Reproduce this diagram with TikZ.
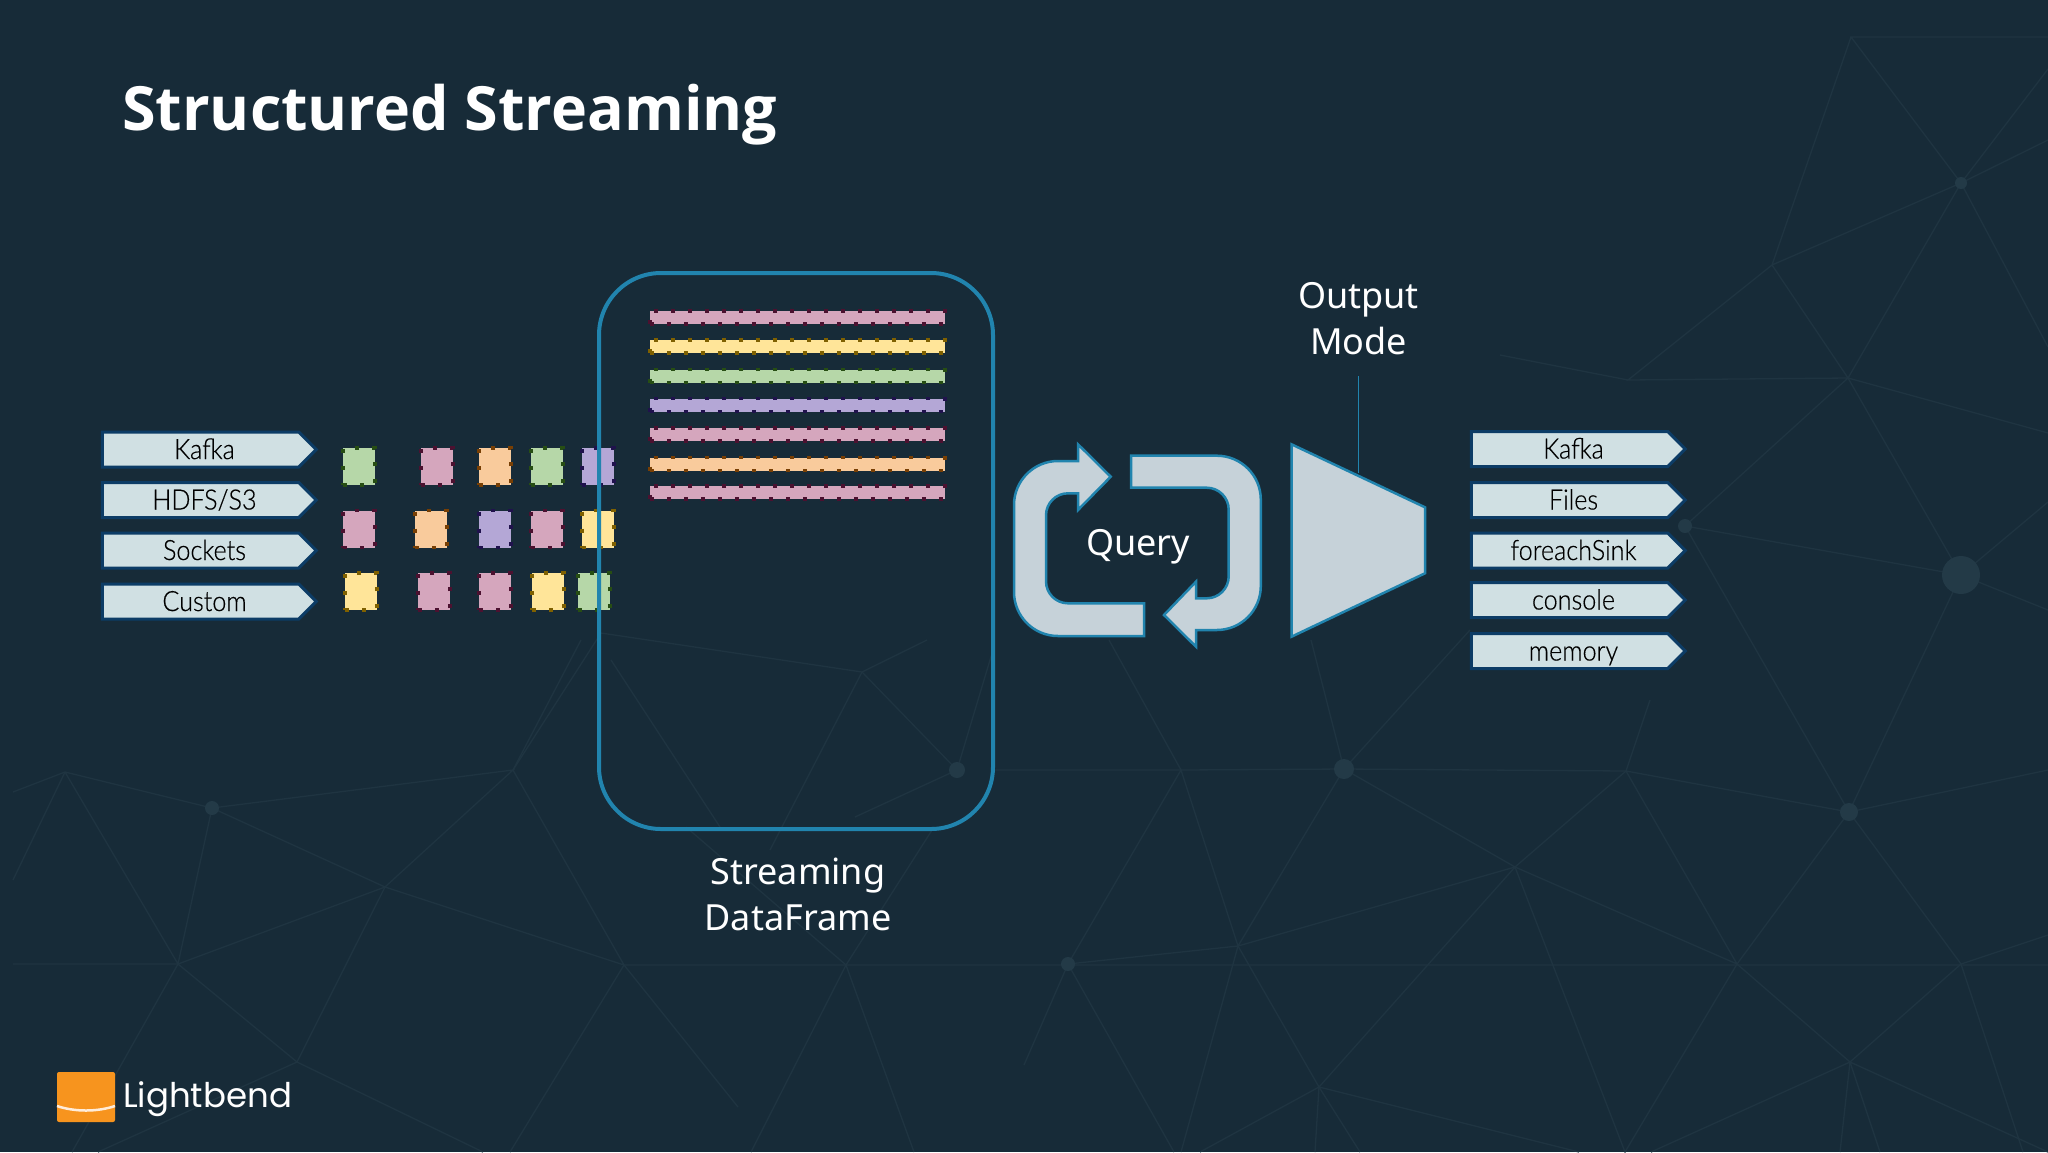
\documentclass[tikz,border=0pt]{standalone}
\usepackage{fontspec}
\setmainfont{Noto Sans}
\newfontfamily\titlefont{Open Sans}
\newfontfamily\boxfont[FakeStretch=0.9, FakeBold=0.4]{Lato Light}
\newfontfamily\logofont{Poppins}
\usetikzlibrary{shapes.symbols}
\definecolor{bgdark}{HTML}{172B38}
\definecolor{bgline}{HTML}{1F3441}
\definecolor{bgdot}{HTML}{233A47}
\definecolor{frameblue}{HTML}{2184AE}
\definecolor{boxfill}{HTML}{D0E0E3}
\definecolor{boxedge}{HTML}{0C3C66}
\definecolor{loopfill}{HTML}{C6D2D9}
\definecolor{logoorange}{HTML}{F7941E}
\tikzset{net/.style = {draw = bgline, line width = 1.3}}
\tikzset{netdot/.style = {fill = bgdot, circle, inner sep = 0}}
\tikzset{signalbox/.style = {signal, signal to = east, signal pointer angle = 90, draw = boxedge, fill = boxfill, line width = 3,
    inner sep = 0, minimum width = 214, minimum height = 35, text = black, text height = 22, text depth = 3,
    execute at begin node = \hspace*{8pt}, font = \boxfont\fontsize{28}{28}\selectfont}}
\tikzset{pkt/.style = {rectangle, inner sep = 0, minimum width = 32, minimum height = 37, line width = 3.5, dash pattern = on 4 off 13}}
\tikzset{strip/.style = {rectangle, inner sep = 0, minimum width = 295, minimum height = 13, line width = 3.5, dash pattern = on 4 off 13}}
\tikzset{pk/.style = {fill = {rgb,255:red,213;green,166;blue,189}, draw = {rgb,255:red,76;green,17;blue,48}}}
\tikzset{ye/.style = {fill = {rgb,255:red,255;green,229;blue,153}, draw = {rgb,255:red,127;green,96;blue,0}}}
\tikzset{gr/.style = {fill = {rgb,255:red,182;green,215;blue,168}, draw = {rgb,255:red,39;green,78;blue,19}}}
\tikzset{pu/.style = {fill = {rgb,255:red,180;green,167;blue,214}, draw = {rgb,255:red,32;green,18;blue,77}}}
\tikzset{or/.style = {fill = {rgb,255:red,249;green,203;blue,156}, draw = {rgb,255:red,120;green,63;blue,4}}}
\tikzset{loopshape/.style = {draw = frameblue, fill = loopfill, line width = 2.5, line join = miter}}
\tikzset{label/.style = {text = white, align = center, font = \fontsize{36}{46}\selectfont}}

\begin{document}
\begin{tikzpicture}[x = 1pt, y = -1pt]
    \useasboundingbox (0, 0) rectangle (2048, 1152);
    \fill [bgdark] (0, 0) rectangle (2048, 1152);

    % faint web behind everything, left part
    \draw [net] (13, 792) -- (65, 772) -- (212, 808) -- (513, 770) -- (385, 887) -- (212, 808) -- (178, 964) -- (65, 772);
    \draw [net] (178, 964) -- (385, 887) -- (624, 965) -- (513, 770) -- (581, 640);
    \draw [net] (13, 964) -- (178, 964) -- (297, 1062) -- (385, 887);
    \draw [net] (98, 1152) -- (297, 1062) -- (483, 1152);
    \draw [net] (72, 1152) -- (178, 964);
    \draw [net] (510, 1152) -- (624, 965) -- (846, 965) -- (2048, 965);
    \draw [net] (624, 965) -- (738, 1107);
    \draw [net] (13, 880) -- (65, 772);
    \draw [net] (513, 770) -- (601, 633) -- (862, 672) -- (957, 770) -- (855, 817);
    \draw [net] (862, 672) -- (927, 640);
    \draw [net] (862, 672) -- (770, 850);
    \draw [net] (611, 660) -- (720, 827);
    \draw [net] (957, 770) -- (993, 650);
    \draw [net] (846, 965) -- (934, 827);
    \draw [net] (846, 965) -- (686, 827);
    \draw [net] (846, 965) -- (914, 1152);
    \draw [net] (846, 965) -- (751, 1152);
    % middle and right part
    \draw [net] (993, 770) -- (1181, 770) -- (1344, 769) -- (1626, 771) -- (1849, 812) -- (2048, 770);
    \draw [net] (1344, 769) -- (1515, 867) -- (1626, 771);
    \draw [net] (1515, 867) -- (1238, 946) -- (1068, 964) -- (1181, 770) -- (1238, 946) -- (1344, 769);
    \draw [net] (1515, 867) -- (1737, 964) -- (1626, 771);
    \draw [net] (1849, 812) -- (1737, 964) -- (1850, 1062) -- (1961, 964) -- (1849, 812);
    \draw [net] (1961, 964) -- (2048, 935);
    \draw [net] (1181, 770) -- (1109, 640);
    \draw [net] (1344, 769) -- (1311, 640);
    \draw [net] (1344, 769) -- (1470, 630);
    \draw [net] (1626, 771) -- (1650, 700);
    \draw [net] (1849, 812) -- (1685, 526) -- (1961, 575) -- (1849, 812);
    \draw [net] (1961, 964) -- (2023, 1152);
    \draw [net] (1068, 964) -- (1174, 1152);
    \draw [net] (1068, 964) -- (1024, 1065);
    \draw [net] (1238, 946) -- (1319, 1087) -- (1515, 867) -- (1625, 1152) -- (1737, 964);
    \draw [net] (1238, 946) -- (1181, 1152);
    \draw [net] (1200, 1152) -- (1319, 1087) -- (1315, 1152);
    \draw [net] (1360, 1152) -- (1319, 1087) -- (1579, 1152);
    \draw [net] (1651, 1152) -- (1850, 1062) -- (1840, 1152);
    \draw [net] (1880, 1152) -- (1850, 1062) -- (2048, 1152);
    % upper right
    \draw [net] (2048, 37) -- (1851, 37) -- (1961, 183) -- (1772, 265) -- (1851, 37);
    \draw [net] (1772, 265) -- (1848, 378) -- (1961, 183);
    \draw [net] (1772, 265) -- (1628, 380) -- (1848, 378) -- (1685, 526);
    \draw [net] (1628, 380) -- (1500, 355);
    \draw [net] (1961, 183) -- (2048, 69);
    \draw [net] (1961, 183) -- (2048, 140);
    \draw [net] (1961, 183) -- (2048, 347);
    \draw [net] (1848, 378) -- (2048, 433);
    \draw [net] (1848, 378) -- (1961, 575) -- (2048, 610);
    \draw [net] (1961, 575) -- (2048, 502);
    \node [netdot, minimum size = 12] (dotA) at (1961, 183) {};
    \node [netdot, minimum size = 38] (dotB) at (1961, 575) {};
    \node [netdot, minimum size = 20] (dotC) at (1344, 769) {};
    \node [netdot, minimum size = 18] (dotD) at (1849, 812) {};
    \node [netdot, minimum size = 14] (dotE) at (1068, 964) {};
    \node [netdot, minimum size = 16] (dotF) at (957, 770) {};
    \node [netdot, minimum size = 14] (dotG) at (212, 808) {};
    \node [netdot, minimum size = 14] (dotH) at (1685, 526) {};

    \node [anchor = west, inner sep = 0, text = white, font = \titlefont\bfseries\fontsize{61}{61}\selectfont] (title) at (122, 115) {Structured Streaming};

    % sources
    \node [signalbox] (srcKafka) at (200.5, 449.5) {Kafka};
    \node [signalbox] (srcHdfs) at (200.5, 500) {HDFS/S3};
    \node [signalbox] (srcSockets) at (200.5, 550.5) {Sockets};
    \node [signalbox] (srcCustom) at (200.5, 601.5) {Custom};

    % records on their way in
    \node [pkt, gr] (pktAa) at (359, 466.5) {};
    \node [pkt, pk] (pktAb) at (437, 466.5) {};
    \node [pkt, or] (pktAc) at (495, 466.5) {};
    \node [pkt, gr] (pktAd) at (547, 466.5) {};
    \node [pkt, pu] (pktAe) at (598, 466.5) {};
    \node [pkt, pk] (pktBa) at (359, 529) {};
    \node [pkt, or] (pktBb) at (431, 529) {};
    \node [pkt, pu] (pktBc) at (495, 529) {};
    \node [pkt, pk] (pktBd) at (547, 529) {};
    \node [pkt, ye] (pktBe) at (598, 529) {};
    \node [pkt, ye] (pktCa) at (361, 591.5) {};
    \node [pkt, pk] (pktCb) at (434, 591.5) {};
    \node [pkt, pk] (pktCc) at (495, 591.5) {};
    \node [pkt, ye] (pktCd) at (548, 591.5) {};
    \node [pkt, gr] (pktCe) at (594, 591.5) {};

    % the table
    \node [strip, pk] (rowA) at (797.5, 317.5) {};
    \node [strip, ye] (rowB) at (797.5, 346.5) {};
    \node [strip, gr] (rowC) at (797.5, 376) {};
    \node [strip, pu] (rowD) at (797.5, 405) {};
    \node [strip, pk] (rowE) at (797.5, 434.5) {};
    \node [strip, or] (rowF) at (797.5, 464) {};
    \node [strip, pk] (rowG) at (797.5, 492.5) {};
    \draw [frameblue, line width = 4, rounded corners = 62] (599, 273) rectangle (993, 829);
    \node [label] (frameLabel) at (798, 894) {Streaming\\DataFrame};

    % query loop
    \draw [loopshape] (1144, 603.3) -- (1144, 636) [rounded corners = 44] -- (1014, 636) -- (1014, 461) [sharp corners] -- (1078, 461) -- (1078, 444.3) -- (1110.7, 476.7) -- (1078, 510) -- (1078, 493.3) [rounded corners = 22] -- (1046, 493.3) -- (1046, 603.3) [sharp corners] -- (1144, 603.3) -- cycle;
    \draw [loopshape] (1131, 455.7) -- (1131, 487.7) [rounded corners = 22] -- (1228.7, 487.7) -- (1228.7, 598.3) [sharp corners] -- (1196, 598.3) -- (1196, 581.7) -- (1164, 615) -- (1196, 646.7) -- (1196, 630) [rounded corners = 44] -- (1260.8, 630) -- (1260.8, 455.7) [sharp corners] -- (1131, 455.7) -- cycle;
    \node [label] (queryLabel) at (1138, 547) {Query};

    % output mode
    \draw [loopshape] (1291.5, 444.3) -- (1425, 507.3) -- (1425, 573.3) -- (1291.5, 636.7) -- cycle;
    \coordinate (modeFoot) at (1358.5, 473);
    \coordinate (modeTop) at (1358.5, 376);
    \draw [frameblue, line width = 1.5] (modeTop) -- (modeFoot);
    \node [label] (modeLabel) at (1358.5, 318.5) {Output\\Mode};

    % sinks
    \node [signalbox] (sinkKafka) at (1569.5, 449) {Kafka};
    \node [signalbox] (sinkFiles) at (1569.5, 500) {Files};
    \node [signalbox] (sinkForeach) at (1569.5, 550.5) {foreachSink};
    \node [signalbox] (sinkConsole) at (1569.5, 600) {console};
    \node [signalbox] (sinkMemory) at (1569.5, 651) {memory};

    % logo
    \fill [fill = logoorange, rounded corners = 2] (57, 1072) rectangle (115, 1122);
    \draw [white!85!orange, line width = 2.5] (57, 1106) .. controls (75, 1112) and (97, 1112) .. (115, 1106);
    \node [anchor = base west, inner sep = 0, text = white, font = \logofont\fontsize{34}{34}\selectfont] (logoText) at (123, 1107) {Lightbend};
\end{tikzpicture}
\end{document}
